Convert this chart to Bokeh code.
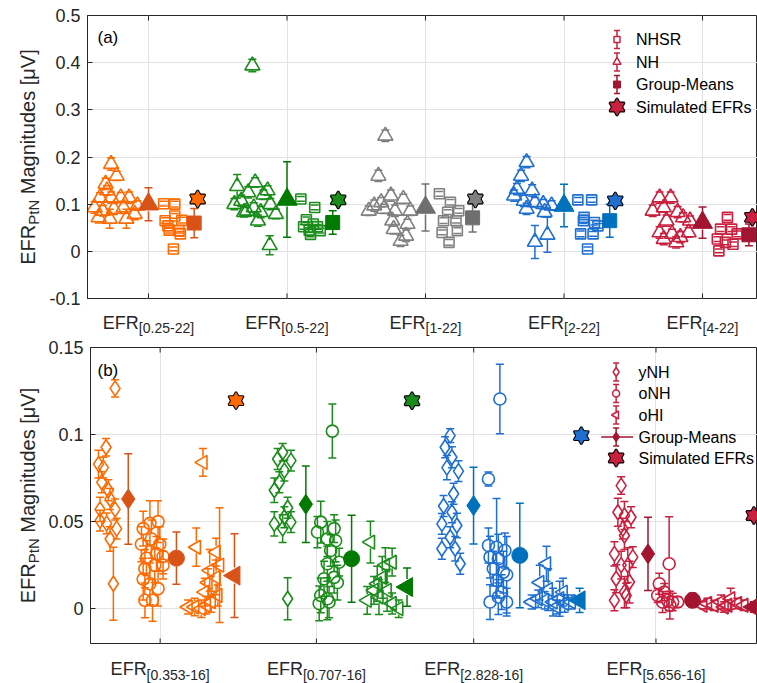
import math
from bokeh.plotting import figure
from bokeh.layouts import column, row
from bokeh.models import Range1d, FixedTicker, Label
from bokeh.core.properties import value
from bokeh.embed import file_html
from bokeh.resources import INLINE

FONT = "Liberation Sans"
AXC = "#262626"
GRIDC = "#E2E2E2"

# ---------------------------------------------------------------- panel (a) data
A_LABELS = ["[0.25-22]", "[0.5-22]", "[1-22]", "[2-22]", "[4-22]"]
A_POS = [1, 2, 3, 4, 5]
A_YTICKS = [-0.1, 0, 0.1, 0.2, 0.3, 0.4, 0.5]
A_YTICK_LABELS = ["-0.1", "0", "0.1", "0.2", "0.3", "0.4", "0.5"]

PT_COLORS = ["#FF6A00", "#1A8C1A", "#808080", "#1F6FD0", "#C9203F"]
MEAN_COLORS = ["#D95319", "#007A00", "#6F6F6F", "#0072BD", "#A2142F"]

# NH (triangles): offset from group position, magnitude, error
a_nh_off = [
    [-0.27, -0.23, -0.31, -0.30, -0.35, -0.27, -0.20, -0.14, -0.39, -0.33, -0.25, -0.18, -0.08, -0.28, -0.16, -0.10, -0.36],
    [-0.36, -0.23, -0.28, -0.14, -0.33, -0.24, -0.12, -0.08, -0.21, -0.29, -0.38, -0.17, -0.31, -0.19, -0.125, -0.25],
    [-0.29, -0.34, -0.37, -0.32, -0.25, -0.16, -0.30, -0.22, -0.11, -0.24, -0.13, -0.23, -0.14, -0.18, -0.41],
    [-0.27, -0.31, -0.34, -0.36, -0.23, -0.29, -0.21, -0.15, -0.09, -0.27, -0.14, -0.21, -0.12],
    [-0.31, -0.23, -0.36, -0.28, -0.18, -0.14, -0.26, -0.31, -0.22, -0.16, -0.10, -0.28, -0.19, -0.09],
]
a_nh_val = [
    [0.185, 0.160, 0.143, 0.129, 0.114, 0.114, 0.114, 0.114, 0.093, 0.086, 0.090, 0.093, 0.097, 0.069, 0.069, 0.079, 0.072],
    [0.138, 0.146, 0.125, 0.129, 0.107, 0.093, 0.100, 0.079, 0.065, 0.086, 0.100, 0.120, 0.083, 0.083, 0.013, 0.394],
    [0.245, 0.160, 0.097, 0.104, 0.118, 0.111, 0.090, 0.086, 0.086, 0.065, 0.058, 0.047, 0.033, 0.022, 0.086],
    [0.189, 0.160, 0.132, 0.118, 0.129, 0.107, 0.104, 0.100, 0.097, 0.090, 0.083, 0.020, 0.035],
    [0.114, 0.114, 0.086, 0.093, 0.083, 0.072, 0.065, 0.040, 0.037, 0.030, 0.040, 0.026, 0.019, 0.065],
]
a_nh_err = [
    [0.013, 0.010, 0.012, 0.010, 0.010, 0.012, 0.011, 0.012, 0.012, 0.011, 0.012, 0.013, 0.010, 0.020, 0.020, 0.012, 0.012],
    [0.025, 0.010, 0.012, 0.010, 0.012, 0.010, 0.012, 0.010, 0.012, 0.010, 0.012, 0.010, 0.010, 0.012, 0.020, 0.013],
    [0.012, 0.012, 0.012, 0.010, 0.012, 0.010, 0.010, 0.012, 0.010, 0.012, 0.010, 0.010, 0.012, 0.012, 0.010],
    [0.012, 0.012, 0.012, 0.012, 0.012, 0.012, 0.010, 0.010, 0.010, 0.012, 0.010, 0.035, 0.037],
    [0.012, 0.012, 0.012, 0.010, 0.012, 0.010, 0.012, 0.012, 0.010, 0.012, 0.010, 0.012, 0.012, 0.010],
]
# NHSR (squares)
a_sr_off = [
    [0.11, 0.19, 0.12, 0.19, 0.15, 0.22, 0.24, 0.18, 0.14, 0.23],
    [0.10, 0.20, 0.14, 0.12, 0.17, 0.24, 0.22, 0.16, 0.19],
    [0.10, 0.18, 0.16, 0.24, 0.13, 0.22, 0.12, 0.23, 0.17],
    [0.10, 0.20, 0.14, 0.22, 0.12, 0.21, 0.245, 0.17, 0.145],
    [0.18, 0.13, 0.21, 0.25, 0.107, 0.165, 0.22, 0.118],
]
a_sr_val = [
    [0.101, 0.100, 0.065, 0.075, 0.045, 0.044, 0.066, 0.005, 0.054, 0.037],
    [0.111, 0.093, 0.067, 0.052, 0.036, 0.044, 0.052, 0.045, 0.058],
    [0.122, 0.104, 0.083, 0.086, 0.065, 0.065, 0.040, 0.044, 0.019],
    [0.109, 0.109, 0.065, 0.061, 0.037, 0.037, 0.054, 0.005, 0.072],
    [0.072, 0.047, 0.047, 0.037, 0.026, 0.019, 0.015, 0.001],
]
a_sr_err = [
    [0.005, 0.006, 0.006, 0.005, 0.006, 0.005, 0.006, 0.004, 0.005, 0.005],
    [0.005, 0.005, 0.006, 0.005, 0.005, 0.005, 0.005, 0.005, 0.005],
    [0.005, 0.006, 0.005, 0.005, 0.006, 0.005, 0.005, 0.006, 0.006],
    [0.005, 0.005, 0.006, 0.005, 0.006, 0.005, 0.005, 0.004, 0.005],
    [0.006, 0.005, 0.005, 0.006, 0.005, 0.005, 0.005, 0.004],
]
a_nh_mean = [0.100, 0.110, 0.093, 0.097, 0.061]
a_nh_mean_err = [0.035, 0.080, 0.050, 0.045, 0.033]
a_sr_mean_off = [0.33, 0.33, 0.34, 0.33, 0.335]
a_sr_mean = [0.060, 0.061, 0.071, 0.065, 0.035]
a_sr_mean_err = [0.031, 0.025, 0.030, 0.035, 0.023]
a_sim_off = [0.355, 0.37, 0.36, 0.37, 0.36]
a_sim = [0.111, 0.109, 0.111, 0.107, 0.072]

# ---------------------------------------------------------------- panel (b) data
B_LABELS = ["[0.353-16]", "[0.707-16]", "[2.828-16]", "[5.656-16]"]
B_GROUP_POS = [1, 2, 3, 4]
B_TICK_POS = [1.184, 2.086, 2.994, 4.046]
B_COLOR_IDX = [0, 1, 3, 4]
B_YTICKS = [0, 0.05, 0.1, 0.15]
B_YTICK_LABELS = ["0", "0.05", "0.1", "0.15"]

b_ynh_off = [
    [-0.076, -0.128, -0.172, -0.144, -0.153, -0.115, -0.163, -0.105, -0.076, -0.163, -0.125, -0.067, -0.105, -0.086],
    [-0.109, -0.061, -0.138, -0.099, -0.128, -0.157, -0.080, -0.157, -0.109, -0.061, -0.099, -0.080],
    [-0.142, -0.171, -0.132, -0.094, -0.161, -0.122, -0.132, -0.190, -0.103, -0.142, -0.190, -0.113, -0.084, -0.180],
    [-0.155, -0.174, -0.136, -0.098, -0.145, -0.136, -0.194, -0.155, -0.117, -0.088, -0.184, -0.107, -0.136, -0.194, -0.126],
]
b_ynh_val = [
    [0.1265, 0.0927, 0.083, 0.081, 0.0726, 0.068, 0.057, 0.063, 0.057, 0.0506, 0.049, 0.046, 0.040, 0.0143],
    [0.0898, 0.085, 0.086, 0.0793, 0.0726, 0.068, 0.058, 0.0487, 0.046, 0.0497, 0.0525, 0.0057],
    [0.0994, 0.0927, 0.087, 0.079, 0.081, 0.066, 0.0554, 0.0487, 0.0478, 0.041, 0.0344, 0.0344, 0.0258, 0.059],
    [0.0707, 0.0554, 0.0535, 0.0525, 0.046, 0.042, 0.0315, 0.025, 0.025, 0.0296, 0.0172, 0.0153, 0.0095, 0.0048, 0.0076],
]
b_ynh_err = [
    [0.005, 0.005, 0.008, 0.006, 0.006, 0.006, 0.007, 0.006, 0.006, 0.006, 0.006, 0.006, 0.007, 0.021],
    [0.005, 0.006, 0.006, 0.006, 0.006, 0.007, 0.006, 0.007, 0.008, 0.006, 0.006, 0.012],
    [0.004, 0.006, 0.006, 0.006, 0.007, 0.006, 0.006, 0.006, 0.007, 0.006, 0.006, 0.007, 0.006, 0.006],
    [0.005, 0.008, 0.008, 0.006, 0.006, 0.008, 0.007, 0.008, 0.010, 0.006, 0.008, 0.012, 0.009, 0.006, 0.007],
]
b_onh_off = [
    [0.086, 0.125, 0.172, 0.076, 0.134, 0.182, 0.105, 0.163, 0.201, 0.096, 0.153, 0.086, 0.125, 0.172, 0.096, 0.140, 0.201],
    [0.178, 0.111, 0.188, 0.092, 0.149, 0.197, 0.168, 0.149, 0.217, 0.130, 0.188, 0.207, 0.111, 0.149, 0.102, 0.159],
    [0.145, 0.079, 0.079, 0.126, 0.174, 0.088, 0.136, 0.107, 0.165, 0.184, 0.126, 0.155, 0.088, 0.184, 0.136],
    [0.122, 0.065, 0.094, 0.056, 0.113, 0.142, 0.171, 0.084, 0.126],
]
b_onh_val = [
    [0.046, 0.049, 0.050, 0.037, 0.040, 0.037, 0.029, 0.0315, 0.030, 0.023, 0.025, 0.017, 0.0143, 0.0115, 0.0048, 0.0048, 0.025],
    [0.102, 0.0497, 0.046, 0.044, 0.040, 0.039, 0.0334, 0.0258, 0.0267, 0.0172, 0.018, 0.015, 0.0076, 0.0057, 0.003, 0.0038],
    [0.1204, 0.0745, 0.0363, 0.0353, 0.0334, 0.0296, 0.0287, 0.023, 0.021, 0.0195, 0.0162, 0.0095, 0.0038, 0.0038, 0.0067],
    [0.0258, 0.0143, 0.0095, 0.0076, 0.0048, 0.0038, 0.0038, 0.0038, 0.002],
]
b_onh_err = [
    [0.010, 0.013, 0.012, 0.010, 0.011, 0.010, 0.010, 0.010, 0.010, 0.011, 0.010, 0.012, 0.012, 0.010, 0.010, 0.012, 0.008],
    [0.0155, 0.012, 0.008, 0.009, 0.010, 0.012, 0.009, 0.010, 0.008, 0.010, 0.009, 0.010, 0.010, 0.012, 0.010, 0.009],
    [0.020, 0.004, 0.010, 0.028, 0.010, 0.012, 0.014, 0.010, 0.012, 0.022, 0.010, 0.010, 0.010, 0.008, 0.010],
    [0.027, 0.006, 0.005, 0.004, 0.004, 0.005, 0.003, 0.006, 0.008],
]
b_ohi_off = [
    [0.431, 0.393, 0.345, 0.383, 0.421, 0.450, 0.479, 0.517, 0.460, 0.507, 0.470, 0.527, 0.507, 0.441],
    [0.398, 0.523, 0.484, 0.466, 0.437, 0.379, 0.447, 0.494, 0.523, 0.561, 0.418],
    [0.414, 0.375, 0.366, 0.328, 0.404, 0.452, 0.490, 0.519, 0.471, 0.510, 0.424, 0.557],
    [0.420, 0.477, 0.381, 0.343, 0.439, 0.516, 0.553, 0.316, 0.460],
]
b_ohi_val = [
    [0.084, 0.0353, 0.001, 0.001, 0.0, 0.002, 0.004, 0.0076, 0.015, 0.018, 0.022, 0.025, 0.0325, 0.0095],
    [0.0382, 0.0267, 0.025, 0.018, 0.0143, 0.0048, 0.0067, 0.0105, 0.003, 0.0, 0.0105],
    [0.0258, 0.015, 0.0057, 0.0038, 0.0048, 0.0038, 0.0057, 0.003, 0.001, 0.0095, 0.011, 0.0038],
    [0.0038, 0.0057, 0.0019, 0.003, 0.001, 0.003, 0.002, 0.002, 0.002],
]
b_ohi_err = [
    [0.008, 0.011, 0.004, 0.005, 0.005, 0.005, 0.006, 0.006, 0.008, 0.010, 0.012, 0.033, 0.008, 0.008],
    [0.012, 0.008, 0.010, 0.012, 0.010, 0.008, 0.010, 0.012, 0.006, 0.005, 0.008],
    [0.010, 0.010, 0.005, 0.004, 0.005, 0.008, 0.010, 0.005, 0.004, 0.008, 0.012, 0.004],
    [0.004, 0.006, 0.003, 0.003, 0.003, 0.003, 0.003, 0.002, 0.003],
]
b_ynh_mean_off = [0.0, 0.025, -0.007, 0.0]
b_ynh_mean = [0.063, 0.060, 0.0592, 0.0315]
b_ynh_mean_err = [0.026, 0.022, 0.022, 0.021]
b_onh_mean_off = [0.278, 0.289, 0.260, 0.257]
b_onh_mean = [0.029, 0.0287, 0.0306, 0.0048]
b_onh_mean_err = [0.015, 0.025, 0.030, 0.004]
b_ohi_mean_off = [0.613, 0.609, 0.605, 0.611]
b_ohi_mean = [0.019, 0.0124, 0.0048, 0.001]
b_ohi_mean_err = [0.024, 0.011, 0.007, 0.003]
b_sim_off = [0.622, 0.638, 0.615, 0.611]
b_sim = [0.1195, 0.1194, 0.0994, 0.0535]

# ---------------------------------------------------------------- helpers
ARIAL = {'E': 667, 'F': 611, 'R': 722, '[': 278, ']': 278, '.': 278, '-': 333, 'P': 667,
         't': 278, 'N': 722, ' ': 278, 'M': 833, 'a': 556, 'g': 556, 'n': 556, 'i': 222,
         'u': 556, 'd': 556, 'e': 556, 's': 500, 'μ': 576, 'V': 667}


def tw(s, size):
    return sum(ARIAL.get(c, 556) for c in s) * size / 1000.0


STRIP_W = 45          # width of the y-label strip
LEFT = 87             # frame left edge in page pixels
MAIN_W = 757 - STRIP_W
FRAME_W = 757 - LEFT


def make_main(height, top, fh, xr, yr, xticks, yticks, ylabels):
    p = figure(width=MAIN_W, height=height, output_backend="svg", toolbar_location=None,
               x_range=Range1d(*xr), y_range=Range1d(*yr),
               min_border_left=LEFT - STRIP_W, min_border_right=0,
               min_border_top=top, min_border_bottom=height - top - fh)
    p.outline_line_color = AXC
    p.outline_line_width = 1
    p.background_fill_color = "white"
    p.border_fill_color = "white"
    xt = FixedTicker(ticks=xticks)
    yt = FixedTicker(ticks=yticks)
    p.xaxis.visible = False
    p.yaxis.ticker = yt
    p.xgrid.ticker = xt
    p.ygrid.ticker = yt
    for g in (p.xgrid, p.ygrid):
        g.grid_line_color = GRIDC
        g.grid_line_width = 1
    ax = p.yaxis[0]
    ax.axis_line_color = AXC
    ax.major_tick_line_color = AXC
    ax.major_tick_in = 5
    ax.major_tick_out = 0
    ax.minor_tick_line_color = None
    ax.major_label_text_font = FONT
    ax.major_label_text_color = AXC
    ax.major_label_text_font_size = "18px"
    ax.major_label_standoff = 7
    ax.major_label_overrides = {t: s for t, s in zip(yticks, ylabels)}
    # inward x tick marks on bottom and top edges
    yu = (yr[1] - yr[0]) / fh
    n = len(xticks)
    p.segment(xticks, [yr[0]] * n, xticks, [yr[0] + 5 * yu] * n, line_color=AXC, line_width=1)
    p.segment(xticks, [yr[1]] * n, xticks, [yr[1] - 5 * yu] * n, line_color=AXC, line_width=1)
    return p


def make_strip(width, height, x_range=None, left=0):
    s = figure(width=width, height=height, output_backend="svg", toolbar_location=None,
               x_range=x_range if x_range is not None else Range1d(0, width),
               y_range=Range1d(0, height), x_axis_type=None, y_axis_type=None,
               min_border_left=left, min_border_right=0, min_border_top=0, min_border_bottom=0)
    s.outline_line_color = None
    s.background_fill_color = "white"
    s.border_fill_color = "white"
    return s


def errbars(p, xs, ys, es, color, gap_px, yu, cap=8, lw=1.5):
    g = gap_px * yu
    up0 = [y + min(g, e) for y, e in zip(ys, es)]
    up1 = [y + e for y, e in zip(ys, es)]
    lo0 = [y - min(g, e) for y, e in zip(ys, es)]
    lo1 = [y - e for y, e in zip(ys, es)]
    p.segment(xs, up0, xs, up1, line_color=color, line_width=lw)
    p.segment(xs, lo0, xs, lo1, line_color=color, line_width=lw)
    p.scatter(xs, up1, marker="dash", size=cap, line_color=color, line_width=lw)
    p.scatter(xs, lo1, marker="dash", size=cap, line_color=color, line_width=lw)


def hexagram(p, xs, ys, fill, size=15):
    for m in ("triangle", "inverted_triangle"):
        p.scatter(xs, ys, marker=m, size=size, fill_color=fill, line_color="black", line_width=2.2)
    for m in ("triangle", "inverted_triangle"):
        p.scatter(xs, ys, marker=m, size=size, fill_color=fill, line_color=None)


def label(p, s, x, y, size, baseline="alphabetic", color="black"):
    p.add_layout(Label(x=x, y=y, x_units="screen", y_units="screen", text=s, text_font=FONT,
                       text_font_size=f"{size}px", text_align="left", text_baseline=baseline,
                       text_color=color))


def ylabel_strip(height, top, fh):
    s = make_strip(STRIP_W, height)
    # (text, font size, baseline shift, gap before)
    parts = [("EFR", 20, 0.0, 0.0), ("PtN", 15, 5.0, 0.0), ("Magnitudes [μV]", 20, 0.0, tw(" ", 20))]
    total = sum(tw(t, f) + g for t, f, _, g in parts)
    y = height - (top + fh / 2 + total / 2)
    for t, f, dx, gap in parts:
        y += gap
        s.text(x=[27.5 + dx], y=[y], text=[t], angle=math.pi / 2, text_font=value(FONT),
               text_font_size=value(f"{f}px"), text_align="left", text_baseline="alphabetic",
               text_color=AXC)
        y += tw(t, f)
    return s


def xlabel_strip(height, xr, ticks, subs, base_y, drop):
    s = make_strip(MAIN_W, height, x_range=xr, left=LEFT - STRIP_W)
    n = len(ticks)
    w_efr = tw("EFR", 18)
    totals = [w_efr + tw(t, 14) for t in subs]
    s.text(x=ticks, y=[base_y] * n, text=["EFR"] * n, x_offset=[-t / 2 for t in totals],
           text_font=value(FONT), text_font_size=value("18px"), text_align="left",
           text_baseline="alphabetic", text_color=AXC)
    s.text(x=ticks, y=[base_y - drop] * n, text=subs, x_offset=[-t / 2 + w_efr for t in totals],
           text_font=value(FONT), text_font_size=value("14px"), text_align="left",
           text_baseline="alphabetic", text_color=AXC)
    return s


def px2x(px, xr):
    return xr[0] + (px - LEFT) / FRAME_W * (xr[1] - xr[0])


def py2y(py, yr, top, fh):
    return yr[1] - (py - top) / fh * (yr[1] - yr[0])


# ---------------------------------------------------------------- panel (a)
A_H, A_TOP, A_FH = 337, 15, 283
A_MAIN_H = A_TOP + A_FH + 10
A_XR = (0.5596, 5.397)
A_YR = (-0.1, 0.5)
ya = (A_YR[1] - A_YR[0]) / A_FH
pa = make_main(A_MAIN_H, A_TOP, A_FH, A_XR, A_YR, A_POS, A_YTICKS, A_YTICK_LABELS)

for i, x0 in enumerate(A_POS):
    pc, mc = PT_COLORS[i], MEAN_COLORS[i]
    xs = [x0 + o for o in a_nh_off[i]]
    errbars(pa, xs, a_nh_val[i], a_nh_err[i], pc, 5, ya)
    pa.scatter(xs, a_nh_val[i], marker="triangle", size=15, fill_color=None, line_color=pc, line_width=1.6)
    xs = [x0 + o for o in a_sr_off[i]]
    errbars(pa, xs, a_sr_val[i], a_sr_err[i], pc, 5, ya)
    pa.scatter(xs, a_sr_val[i], marker="square", size=10, fill_color=None, line_color=pc, line_width=1.6)
    errbars(pa, [x0], [a_nh_mean[i]], [a_nh_mean_err[i]], mc, 7, ya)
    pa.scatter([x0], [a_nh_mean[i]], marker="triangle", size=20, fill_color=mc, line_color=mc)
    xm = [x0 + a_sr_mean_off[i]]
    errbars(pa, xm, [a_sr_mean[i]], [a_sr_mean_err[i]], mc, 7, ya)
    pa.scatter(xm, [a_sr_mean[i]], marker="square", size=14, fill_color=mc, line_color=mc)
    hexagram(pa, [x0 + a_sim_off[i]], [a_sim[i]], pc)

label(pa, "(a)", 10, A_FH - 22, 17)

LEG_A = [("NHSR", "square", 39), ("NH", "triangle", 61.5), ("Group-Means", "msquare", 84), ("Simulated EFRs", "star", 106.5)]
lx = px2x(616.5, A_XR)
for name, kind, py in LEG_A:
    y = py2y(py, A_YR, A_TOP, A_FH)
    if kind == "star":
        hexagram(pa, [lx], [y], PT_COLORS[4])
    else:
        col = MEAN_COLORS[4] if kind == "msquare" else PT_COLORS[4]
        errbars(pa, [lx], [y], [9 * ya], col, 3, ya, cap=6)
        if kind == "square":
            pa.scatter([lx], [y], marker="square", size=6, fill_color="white", line_color=col, line_width=1.5)
        elif kind == "triangle":
            pa.scatter([lx], [y], marker="triangle", size=8, fill_color="white", line_color=col, line_width=1.5)
        else:
            pa.scatter([lx], [y], marker="square", size=7, fill_color=col, line_color=col)
    label(pa, name, 635.5 - LEFT, A_FH - (py - A_TOP), 16, baseline="middle")

# tick-label strip: baseline of "EFR" at page y = 322
xa = xlabel_strip(A_H - A_MAIN_H, pa.x_range, A_POS, A_LABELS, A_H - 322, 5.5)
ya_strip = ylabel_strip(A_H, A_TOP, A_FH)

# ---------------------------------------------------------------- panel (b)
B_H, B_FH = 683 - A_H, 296
B_TOP = 347 - A_H
B_MAIN_H = B_TOP + B_FH + 1
B_XR = (0.782, 4.632)
B_YR = (-0.02, 0.15)
yb = (B_YR[1] - B_YR[0]) / B_FH
pb = make_main(B_MAIN_H, B_TOP, B_FH, B_XR, B_YR, B_TICK_POS, B_YTICKS, B_YTICK_LABELS)

LEFT_TRI = math.pi / 2
for i, x0 in enumerate(B_GROUP_POS):
    pc, mc = PT_COLORS[B_COLOR_IDX[i]], MEAN_COLORS[B_COLOR_IDX[i]]
    xs = [x0 + o for o in b_ynh_off[i]]
    errbars(pb, xs, b_ynh_val[i], b_ynh_err[i], pc, 7, yb)
    pb.scatter(xs, b_ynh_val[i], marker="diamond", size=15, fill_color=None, line_color=pc, line_width=1.6)
    xs = [x0 + o for o in b_onh_off[i]]
    errbars(pb, xs, b_onh_val[i], b_onh_err[i], pc, 6, yb)
    pb.scatter(xs, b_onh_val[i], marker="circle", size=12, fill_color=None, line_color=pc, line_width=1.6)
    xs = [x0 + o for o in b_ohi_off[i]]
    errbars(pb, xs, b_ohi_val[i], b_ohi_err[i], pc, 6, yb)
    pb.scatter(xs, b_ohi_val[i], marker="triangle", angle=LEFT_TRI, size=14, fill_color=None, line_color=pc, line_width=1.6)
    for offs, m, e, mk, sz, ang in ((b_ynh_mean_off, b_ynh_mean, b_ynh_mean_err, "diamond", 20, 0.0),
                                    (b_onh_mean_off, b_onh_mean, b_onh_mean_err, "circle", 16, 0.0),
                                    (b_ohi_mean_off, b_ohi_mean, b_ohi_mean_err, "triangle", 19, LEFT_TRI)):
        xm = [x0 + offs[i]]
        errbars(pb, xm, [m[i]], [e[i]], mc, 8, yb)
        pb.scatter(xm, [m[i]], marker=mk, angle=ang, size=sz, fill_color=mc, line_color=mc)
    hexagram(pb, [x0 + b_sim_off[i]], [b_sim[i]], pc)

label(pb, "(b)", 7, B_FH - 23, 17)

LEG_B = [("yNH", "diamond", 371.5), ("oNH", "circle", 393), ("oHI", "ltri", 414.5),
         ("Group-Means", "mean", 436.5), ("Simulated EFRs", "star", 457.5)]
lxb = px2x(615, B_XR)
for name, kind, py_abs in LEG_B:
    py = py_abs - A_H
    y = py2y(py, B_YR, B_TOP, B_FH)
    if kind == "star":
        hexagram(pb, [lxb], [y], PT_COLORS[4])
    else:
        col = MEAN_COLORS[4] if kind == "mean" else PT_COLORS[4]
        if kind == "mean":
            pb.segment([px2x(600, B_XR)], [y], [px2x(632, B_XR)], [y], line_color=col, line_width=1.6)
        errbars(pb, [lxb], [y], [9 * yb], col, 3, yb, cap=6)
        if kind == "diamond":
            pb.scatter([lxb], [y], marker="diamond", size=9, fill_color="white", line_color=col, line_width=1.5)
        elif kind == "circle":
            pb.scatter([lxb], [y], marker="circle", size=7, fill_color="white", line_color=col, line_width=1.5)
        elif kind == "ltri":
            pb.scatter([lxb], [y], marker="triangle", angle=LEFT_TRI, size=8, fill_color="white", line_color=col, line_width=1.5)
        else:
            pb.scatter([lxb], [y], marker="diamond", size=10, fill_color=col, line_color=col)
    label(pb, name, 635 - LEFT, B_FH - (py - B_TOP), 16, baseline="middle")

# tick-label strip: baseline of "EFR" at page y = 668
xb = xlabel_strip(B_H - B_MAIN_H, pb.x_range, B_TICK_POS, B_LABELS, 683 - 668, 6)
yb_strip = ylabel_strip(B_H, B_TOP, B_FH)

layout = column(row(ya_strip, column(pa, xa, spacing=0), spacing=0),
                row(yb_strip, column(pb, xb, spacing=0), spacing=0), spacing=0)
open("out.html", "w").write(file_html(layout, INLINE))
